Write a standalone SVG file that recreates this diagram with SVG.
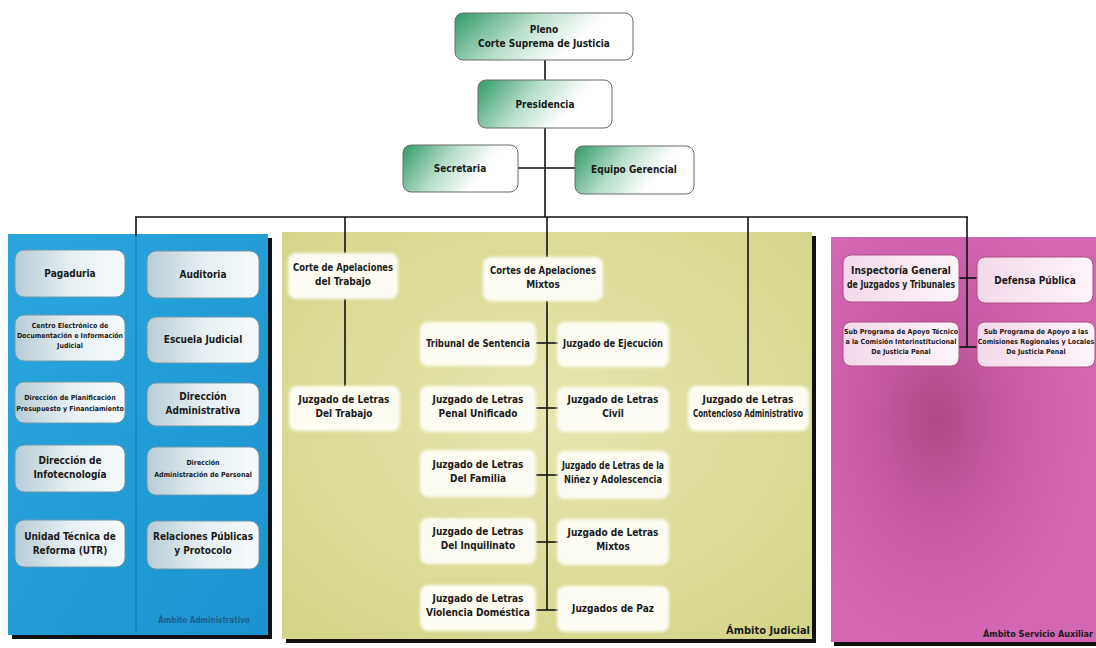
<svg xmlns="http://www.w3.org/2000/svg" width="1096" height="648" viewBox="0 0 1096 648">
<style>
text{font-family:"Liberation Sans Narrow","DejaVu Sans Condensed","Liberation Sans",sans-serif;font-weight:bold;fill:#1a1a1a;text-anchor:middle}
.t11{font-size:11px}
.t10{font-size:10px}
.t9{font-size:9px}
.t7{font-size:7px}
.conn line{stroke:#111;stroke-width:1.6}
.gbox{fill:url(#gGreen);stroke:#6a6a6a;stroke-width:1}
.bbox{fill:url(#gBlueBox);stroke:#6b98ad;stroke-width:1}
.ybox{fill:#fcfcf2;filter:url(#soft)}
.pbox{fill:url(#gPinkBox);stroke:#a8537f;stroke-width:1}
</style>
<defs>
<linearGradient id="gGreen" x1="0" y1="0" x2="1" y2="0.3">
<stop offset="0" stop-color="#2f9a68"/><stop offset="0.45" stop-color="#b9decb"/><stop offset="0.8" stop-color="#ffffff"/>
</linearGradient>
<linearGradient id="gBlueBox" x1="0" y1="0" x2="1" y2="0">
<stop offset="0" stop-color="#b8ccd6"/><stop offset="0.5" stop-color="#e6eff2"/><stop offset="1" stop-color="#f6fafb"/>
</linearGradient>
<linearGradient id="gPinkBox" x1="0" y1="0" x2="1" y2="0">
<stop offset="0" stop-color="#f3d9ea"/><stop offset="1" stop-color="#fdf5fa"/>
</linearGradient>
<linearGradient id="gBlue" x1="0" y1="0" x2="1" y2="1">
<stop offset="0" stop-color="#2aa6dd"/><stop offset="1" stop-color="#1b93cf"/>
</linearGradient>
<radialGradient id="gYellow" cx="0.5" cy="0.45" r="0.7">
<stop offset="0" stop-color="#e8e7b0"/><stop offset="1" stop-color="#d4d488"/>
</radialGradient>
<radialGradient id="gPink" cx="0.4" cy="0.45" r="0.55">
<stop offset="0" stop-color="#b04a84"/><stop offset="0.45" stop-color="#c65aa2"/><stop offset="1" stop-color="#d266b2"/>
</radialGradient>
<filter id="soft" x="-10%" y="-20%" width="120%" height="140%"><feGaussianBlur stdDeviation="1.5"/></filter>
</defs>
<rect x="0" y="0" width="1096" height="648" fill="#ffffff"/>

<g id="panel-admin">
<rect x="12" y="238" width="260" height="401" fill="#111"/>
<rect x="8" y="234" width="260" height="401" fill="url(#gBlue)"/>
<line x1="136" y1="235" x2="136" y2="634" stroke="#1681b6" stroke-width="1.2"/>
<text class="t7" x="204" y="623" style="fill:#1b5f8f;font-size:8px">Ámbito Administrativo</text>
</g>
<g id="panel-judicial">
<rect x="286" y="236" width="530" height="407" fill="#111"/>
<rect x="282" y="232" width="530" height="407" fill="url(#gYellow)"/>
<text class="t11" x="768" y="634">Ámbito Judicial</text>
</g>
<g id="panel-auxiliar">
<rect x="834" y="241" width="262" height="405" fill="#111"/>
<rect x="831" y="237" width="265" height="405" fill="url(#gPink)"/>
<text class="t9" x="1038" y="637">Ámbito Servicio Auxiliar</text>
</g>

<g class="conn">
<line x1="545" y1="60" x2="545" y2="80"/>
<line x1="545" y1="128" x2="545" y2="217"/>
<line x1="518" y1="168" x2="575" y2="168"/>
<line x1="135" y1="217" x2="968" y2="217"/>
<line x1="136" y1="217" x2="136" y2="236"/>
<line x1="345" y1="217" x2="345" y2="253"/>
<line x1="345" y1="299" x2="345" y2="386"/>
<line x1="547" y1="217" x2="547" y2="257"/>
<line x1="547" y1="301" x2="547" y2="610"/>
<line x1="536" y1="343" x2="558" y2="343"/>
<line x1="536" y1="408" x2="558" y2="408"/>
<line x1="536" y1="475" x2="558" y2="475"/>
<line x1="536" y1="542" x2="558" y2="542"/>
<line x1="536" y1="610" x2="558" y2="610"/>
<line x1="748" y1="217" x2="748" y2="386"/>
<line x1="967" y1="217" x2="967" y2="347"/>
<line x1="959" y1="278" x2="978" y2="278"/>
<line x1="959" y1="347" x2="978" y2="347"/>
</g>

<g id="n-pleno"><rect class="gbox" x="455" y="13" width="178" height="47" rx="8"/><text class="t10" x="544" y="33">Pleno</text><text class="t10" x="544" y="47">Corte Suprema de Justicia</text></g>
<g id="n-presidencia"><rect class="gbox" x="478" y="80" width="134" height="48" rx="8"/><text class="t10" x="545" y="108">Presidencia</text></g>
<g id="n-secretaria"><rect class="gbox" x="403" y="145" width="115" height="47" rx="8"/><text class="t10" x="460" y="172">Secretaria</text></g>
<g id="n-equipo"><rect class="gbox" x="575" y="146" width="119" height="48" rx="8"/><text class="t10" x="634" y="173">Equipo Gerencial</text></g>

<g id="n-pagaduria"><rect class="bbox" x="15" y="250" width="110" height="47" rx="9"/><text class="t10" x="70" y="277">Pagaduria</text></g>
<g id="n-auditoria"><rect class="bbox" x="147" y="251" width="112" height="47" rx="9"/><text class="t10" x="203" y="278">Auditoria</text></g>
<g id="n-centro"><rect class="bbox" x="15" y="315" width="110" height="46" rx="9"/><text class="t7" x="70" y="328">Centro Electrónico de</text><text class="t7" x="70" y="338">Documentación e Información</text><text class="t7" x="70" y="348">Judicial</text></g>
<g id="n-escuela"><rect class="bbox" x="147" y="317" width="112" height="46" rx="9"/><text class="t10" x="203" y="343">Escuela Judicial</text></g>
<g id="n-planificacion"><rect class="bbox" x="15" y="382" width="110" height="41" rx="9"/><text class="t7" x="70" y="400">Dirección de Planificación</text><text class="t7" x="70" y="411">Presupuesto y Financiamiento</text></g>
<g id="n-diradmin"><rect class="bbox" x="147" y="383" width="112" height="43" rx="9"/><text class="t10" x="203" y="400">Dirección</text><text class="t10" x="203" y="414">Administrativa</text></g>
<g id="n-infotec"><rect class="bbox" x="15" y="445" width="110" height="47" rx="9"/><text class="t10" x="70" y="464">Dirección de</text><text class="t10" x="70" y="478">Infotecnología</text></g>
<g id="n-personal"><rect class="bbox" x="147" y="447" width="112" height="48" rx="9"/><text class="t7" x="203" y="465">Dirección</text><text class="t7" x="203" y="477">Administración de Personal</text></g>
<g id="n-utr"><rect class="bbox" x="15" y="520" width="110" height="47" rx="9"/><text class="t10" x="70" y="540">Unidad Técnica de</text><text class="t10" x="70" y="554">Reforma (UTR)</text></g>
<g id="n-rrpp"><rect class="bbox" x="147" y="521" width="112" height="48" rx="9"/><text class="t10" x="203" y="540" textLength="100" lengthAdjust="spacingAndGlyphs">Relaciones Públicas</text><text class="t10" x="203" y="554">y Protocolo</text></g>

<g id="n-corte-trabajo"><rect class="ybox" x="288" y="253" width="110" height="46" rx="8"/><text class="t10" x="343" y="271" textLength="100" lengthAdjust="spacingAndGlyphs">Corte de Apelaciones</text><text class="t10" x="343" y="285">del Trabajo</text></g>
<g id="n-cortes-mixtos"><rect class="ybox" x="483" y="257" width="120" height="44" rx="8"/><text class="t10" x="543" y="274" textLength="106" lengthAdjust="spacingAndGlyphs">Cortes de Apelaciones</text><text class="t10" x="543" y="288">Mixtos</text></g>
<g id="n-juz-trabajo"><rect class="ybox" x="289" y="386" width="111" height="45" rx="8"/><text class="t10" x="344" y="403">Juzgado de Letras</text><text class="t10" x="344" y="417">Del Trabajo</text></g>
<g id="n-tribunal"><rect class="ybox" x="420" y="322" width="116" height="44" rx="8"/><text class="t10" x="478" y="347" textLength="104" lengthAdjust="spacingAndGlyphs">Tribunal de Sentencia</text></g>
<g id="n-ejecucion"><rect class="ybox" x="557" y="322" width="112" height="45" rx="8"/><text class="t10" x="613" y="347" textLength="100" lengthAdjust="spacingAndGlyphs">Juzgado de Ejecución</text></g>
<g id="n-penal"><rect class="ybox" x="420" y="386" width="116" height="46" rx="8"/><text class="t10" x="478" y="403">Juzgado de Letras</text><text class="t10" x="478" y="417">Penal Unificado</text></g>
<g id="n-civil"><rect class="ybox" x="557" y="387" width="112" height="45" rx="8"/><text class="t10" x="613" y="403">Juzgado de Letras</text><text class="t10" x="613" y="417">Civil</text></g>
<g id="n-familia"><rect class="ybox" x="420" y="450" width="116" height="47" rx="8"/><text class="t10" x="478" y="468">Juzgado de Letras</text><text class="t10" x="478" y="482">Del Familia</text></g>
<g id="n-ninez"><rect class="ybox" x="557" y="451" width="112" height="48" rx="8"/><text class="t10" x="613" y="469" textLength="102" lengthAdjust="spacingAndGlyphs">Juzgado de Letras de la</text><text class="t10" x="613" y="483" textLength="98" lengthAdjust="spacingAndGlyphs">Niñez y Adolescencia</text></g>
<g id="n-inquilinato"><rect class="ybox" x="420" y="518" width="116" height="46" rx="8"/><text class="t10" x="478" y="535">Juzgado de Letras</text><text class="t10" x="478" y="549">Del Inquilinato</text></g>
<g id="n-mixtos"><rect class="ybox" x="557" y="519" width="112" height="46" rx="8"/><text class="t10" x="613" y="536">Juzgado de Letras</text><text class="t10" x="613" y="550">Mixtos</text></g>
<g id="n-violencia"><rect class="ybox" x="420" y="585" width="116" height="46" rx="8"/><text class="t10" x="478" y="602">Juzgado de Letras</text><text class="t10" x="478" y="616" textLength="104" lengthAdjust="spacingAndGlyphs">Violencia Doméstica</text></g>
<g id="n-paz"><rect class="ybox" x="557" y="586" width="112" height="46" rx="8"/><text class="t10" x="613" y="612">Juzgados de Paz</text></g>
<g id="n-contencioso"><rect class="ybox" x="688" y="386" width="121" height="45" rx="8"/><text class="t10" x="748" y="403">Juzgado de Letras</text><text class="t10" x="748" y="417" textLength="110" lengthAdjust="spacingAndGlyphs">Contencioso Administrativo</text></g>

<g id="n-inspectoria"><rect class="pbox" x="843" y="255" width="116" height="47" rx="8"/><text class="t10" x="901" y="274">Inspectoría General</text><text class="t10" x="901" y="288" textLength="108" lengthAdjust="spacingAndGlyphs">de Juzgados y Tribunales</text></g>
<g id="n-defensa"><rect class="pbox" x="977" y="257" width="116" height="46" rx="8"/><text class="t10" x="1035" y="284">Defensa Pública</text></g>
<g id="n-subprog1"><rect class="pbox" x="843" y="322" width="116" height="44" rx="8"/><text class="t7" x="901" y="334">Sub Programa de Apoyo Técnico</text><text class="t7" x="901" y="344">a la Comisión Interinstitucional</text><text class="t7" x="901" y="354">De Justicia Penal</text></g>
<g id="n-subprog2"><rect class="pbox" x="977" y="322" width="118" height="45" rx="8"/><text class="t7" x="1036" y="334">Sub Programa de Apoyo a las</text><text class="t7" x="1036" y="344">Comisiones Regionales y Locales</text><text class="t7" x="1036" y="354">De Justicia Penal</text></g>
</svg>
